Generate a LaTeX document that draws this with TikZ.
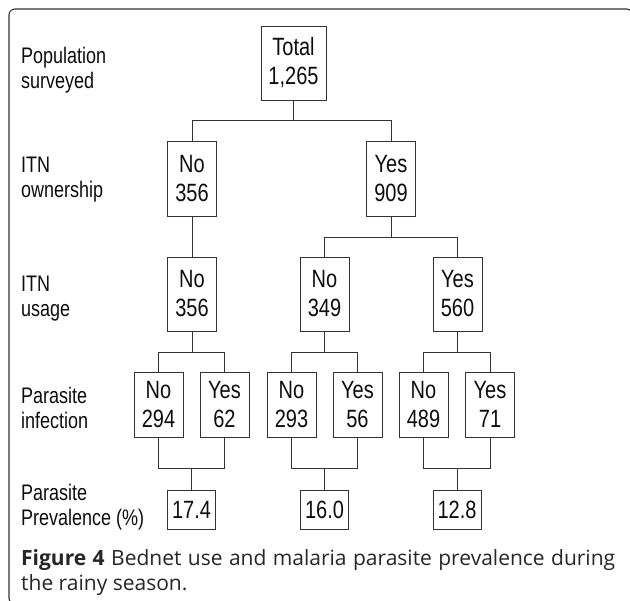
\documentclass[tikz,border=0pt]{standalone}
\usepackage{fontspec}
\setmainfont[FakeStretch=0.8]{Liberation Sans}
\newfontfamily\capfont{Open Sans}
\usetikzlibrary{positioning,calc}

\tikzset{
  box/.style={draw=black!80, line width=0.9pt, inner sep=0pt, align=center, text=black!95, font=\fontsize{25}{29}\selectfont},
  boxtop/.style={box, minimum width=65pt, minimum height=74pt},
  boxtall/.style={box, minimum width=49pt, minimum height=75pt},
  boxmid/.style={box, minimum width=49pt, minimum height=65pt},
  boxlow/.style={box, minimum width=48pt, minimum height=39pt},
  lbl/.style={anchor=west, align=left, inner sep=0pt, text=black!95, font=\fontsize{22.5}{25}\selectfont},
  link/.style={draw=black!80, line width=0.9pt}
}

\begin{document}
\begin{tikzpicture}[x=1pt,y=-1pt]

\clip (0,0) rectangle (630,601);

% cadre
\draw[black!80, line width=1.1pt, rounded corners=6pt] (9,9) rectangle (632.5,604);

% niveaux
\node[lbl] (l-pop) at (21,70) {Population\\surveyed};
\node[lbl] (l-own) at (21,179.5) {ITN\\ownership};
\node[lbl] (l-use) at (21,299) {ITN\\usage};
\node[lbl] (l-inf) at (21,407.5) {Parasite\\infection};
\node[lbl] (l-prev) at (21,507) {Parasite\\Prevalence (\%)};

% arbre
\node[boxtop] (total) at (293.5,63) {Total\\1,265};

\node[boxtall] (own-no) at (192,178.5) {No\\356};
\node[boxtall] (own-yes) at (391,178.5) {Yes\\909};

\node[boxtall, minimum height=74pt] (use-no1) at (192,294) {No\\356};
\node[boxtall, minimum height=74pt] (use-no2) at (324.5,294) {No\\349};
\node[boxtall, minimum height=74pt] (use-yes) at (457.5,294) {Yes\\560};

\node[boxmid] (inf-1) at (158.5,404.5) {No\\294};
\node[boxmid] (inf-2) at (224.5,404.5) {Yes\\62};
\node[boxmid] (inf-3) at (291.5,404.5) {No\\293};
\node[boxmid] (inf-4) at (357.5,404.5) {Yes\\56};
\node[boxmid] (inf-5) at (423.5,404.5) {No\\489};
\node[boxmid] (inf-6) at (490,404.5) {Yes\\71};

\node[boxlow] (prev-1) at (191.5,509.5) {17.4};
\node[boxlow] (prev-2) at (324.5,509.5) {16.0};
\node[boxlow] (prev-3) at (457,509.5) {12.8};

% liens
\draw[link] (total.south) -- ++(0,20) -| (own-no.north);
\draw[link] (total.south) -- ++(0,20) -| (own-yes.north);
\draw[link] (own-no.south) -- (use-no1.north);
\draw[link] (own-yes.south) -- ++(0,21) -| (use-no2.north);
\draw[link] (own-yes.south) -- ++(0,21) -| (use-yes.north);
\foreach \u/\a/\b in {use-no1/inf-1/inf-2, use-no2/inf-3/inf-4, use-yes/inf-5/inf-6} {
  \draw[link] (\u.south) -- ++(0,21) -| (\a.north);
  \draw[link] (\u.south) -- ++(0,21) -| (\b.north);
}
\foreach \a/\b/\p in {inf-1/inf-2/prev-1, inf-3/inf-4/prev-2, inf-5/inf-6/prev-3} {
  \draw[link] (\a.south) -- ++(0,31) -| (\b.south);
  \draw[link] (\p.north) -- ++(0,-22);
}

% legende
\node[anchor=north west, inner sep=0pt, text width=594pt, align=justify, text=black!85,
  font=\capfont\fontsize{21}{25}\selectfont] (caption) at (21,549)
  {\textbf{Figure 4} Bednet use and malaria parasite prevalence during\linebreak the rainy season.};

\end{tikzpicture}
\end{document}
